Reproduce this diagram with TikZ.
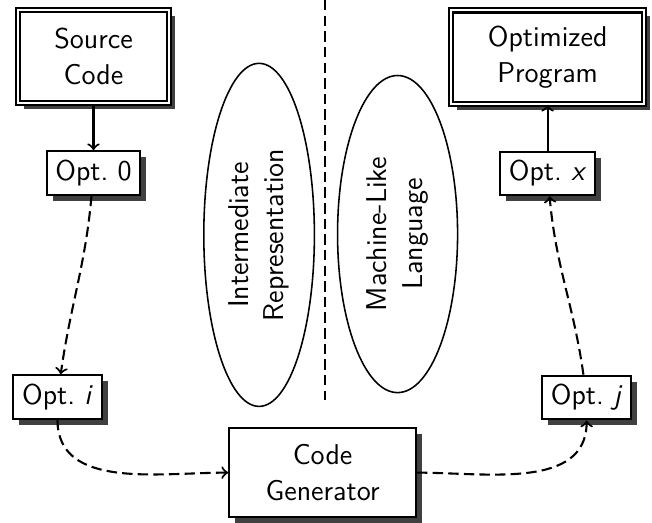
\documentclass[tikz,border=0pt]{standalone}
\usetikzlibrary{positioning, shapes.geometric, shadows}

\begin{document}
\begin{tikzpicture}
[->,
 thick,
 font=\fontsize{11}{13.6}\selectfont\sffamily,
 node distance=0.62cm,
 boxshadow/.style={drop shadow={shadow xshift=2.3pt, shadow yshift=-2.3pt, fill=black!75, opacity=1}},
 term/.style={draw, double, double distance=0.8pt, fill=white, align=center,
   inner xsep=14pt, minimum height=1.26cm, boxshadow},
 pass/.style={draw, fill=white, boxshadow},
 stage/.style={draw, fill=white, align=center, minimum width=2.52cm,
   minimum height=1.2cm, boxshadow},
 lang/.style={draw, ellipse, semithick, rotate=90, align=center},
 flow/.style={dash pattern=on 4pt off 2pt}
]
\useasboundingbox (0,0) rectangle (8.80,-7.047);

\node[term] (src) at (1.262,-0.763) {Source\\Code};
\node[term] (prog) at (7.391,-0.770) {Optimized\\Program};
\node[pass, below=of src] (opt0) {Opt.~0};
\node[pass, below=of prog] (optx) {Opt.~\textit{x}};
\node[pass] (opti) at (0.776,-5.36) {Opt.~\textit{i}};
\node[pass] (optj) at (7.918,-5.366) {Opt.~\textit{j}};
\node[stage] (gen) at (4.354,-6.379) {Code\\Generator};

\node[lang, minimum width=4.63cm, minimum height=1.49cm] (ir) at (3.497,-3.17) {Intermediate\\Representation};
\node[lang, minimum width=4.28cm, minimum height=1.62cm] (mll) at (5.366,-3.159) {Machine-Like\\Language};

% split between the two languages
\coordinate (septop) at (4.39,0);
\coordinate (sepbot) at (4.39,-5.40);
\draw[-, flow] (septop) -- (sepbot);

\draw (src) -- (opt0);
\draw (optx) -- (prog);
\draw[flow] (opt0) to[out=-95, in=82] (opti);
\draw[flow] (opti) to[out=-90, in=180] (gen);
\draw[flow] (gen) to[out=0, in=-90] (optj);
\draw[flow] (optj) to[out=98, in=-85] (optx);
\end{tikzpicture}
\end{document}
